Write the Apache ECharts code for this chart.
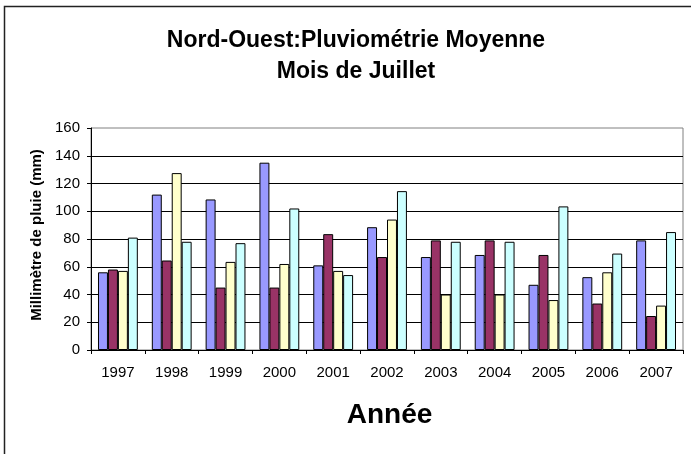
<!DOCTYPE html>
<html>
<head>
<meta charset="utf-8">
<script src="https://cdn.jsdelivr.net/npm/echarts@6/dist/echarts.min.js"></script>
<style>
  html, body { margin: 0; padding: 0; background: #fff; }
  #chart { width: 691px; height: 454px; }
</style>
</head>
<body>
<div id="chart"></div>
<script>
// années (axe des x)
const years = ['1997', '1998', '1999', '2000', '2001', '2002', '2003', '2004', '2005', '2006', '2007']
// pluie moyenne de juillet, mm
const serie1 = [56, 112, 108.5, 135, 61, 88.5, 67, 68.5, 47, 52.5, 79]
const serie2 = [58, 64.5, 45, 45, 83.5, 67, 79, 79, 68.5, 33.5, 24.5]
const serie3 = [57, 127.5, 63.5, 62, 57, 94, 40, 40, 36, 56, 32]
const serie4 = [81, 78, 77, 102, 54, 114.5, 78, 78, 103.5, 69.5, 85]
const yTicks = { min: 0, max: 160, interval: 20 }

const font = 'Liberation Sans, Arial, sans-serif'
const colors = ['#9999FF', '#993366', '#FFFFCC', '#CCFFFF']

const chart = echarts.init(document.getElementById('chart'), null, { renderer: 'canvas' })

const bar = (name, data, i) => ({
  name: name,
  type: 'bar',
  data: data,
  barGap: '0%',
  barCategoryGap: '26%',
  animation: false,
  itemStyle: { color: colors[i], borderColor: '#000', borderWidth: 1 }
})

chart.setOption({
  backgroundColor: '#fff',
  animation: false,
  title: {
    text: 'Nord-Ouest:Pluviométrie Moyenne\nMois de Juillet',
    left: 351,
    top: 20,
    textAlign: 'center',
    textStyle: { fontFamily: font, fontSize: 23, fontWeight: 'bold', color: '#000', lineHeight: 31 }
  },
  graphic: [{
    type: 'rect',
    shape: { x: 4.5, y: 6.5, width: 720, height: 480 },
    style: { fill: 'none', stroke: '#222', lineWidth: 1.5 },
    silent: true
  }],
  grid: {
    left: 91, right: 8, top: 128, bottom: 104,
    show: true, borderColor: '#808080', borderWidth: 1, backgroundColor: 'transparent'
  },
  xAxis: {
    type: 'category',
    data: years,
    name: 'Année',
    nameLocation: 'middle',
    nameGap: 51,
    nameTextStyle: { fontFamily: font, fontSize: 28, fontWeight: 'bold', color: '#000', padding: [0, 0, 0, 5] },
    axisLine: { lineStyle: { color: '#000', width: 1 } },
    axisTick: { show: true, length: 4, lineStyle: { color: '#000' } },
    axisLabel: { fontFamily: font, fontSize: 15, color: '#000', margin: 15 }
  },
  yAxis: {
    type: 'value',
    min: yTicks.min,
    max: yTicks.max,
    interval: yTicks.interval,
    name: 'Millimètre de pluie (mm)',
    nameLocation: 'middle',
    nameGap: 41,
    nameTextStyle: { fontFamily: font, fontSize: 15, fontWeight: 'bold', color: '#000', padding: [0, 0, 0, 8] },
    axisLine: { show: true, lineStyle: { color: '#000', width: 1 } },
    axisTick: { show: true, length: 4, lineStyle: { color: '#000' } },
    axisLabel: { fontFamily: font, fontSize: 15, color: '#000', margin: 11 },
    splitLine: { show: true, showMaxLine: false, lineStyle: { color: '#000', width: 1 } }
  },
  series: [
    bar('Série 1', serie1, 0),
    bar('Série 2', serie2, 1),
    bar('Série 3', serie3, 2),
    bar('Série 4', serie4, 3)
  ]
})
</script>
</body>
</html>
